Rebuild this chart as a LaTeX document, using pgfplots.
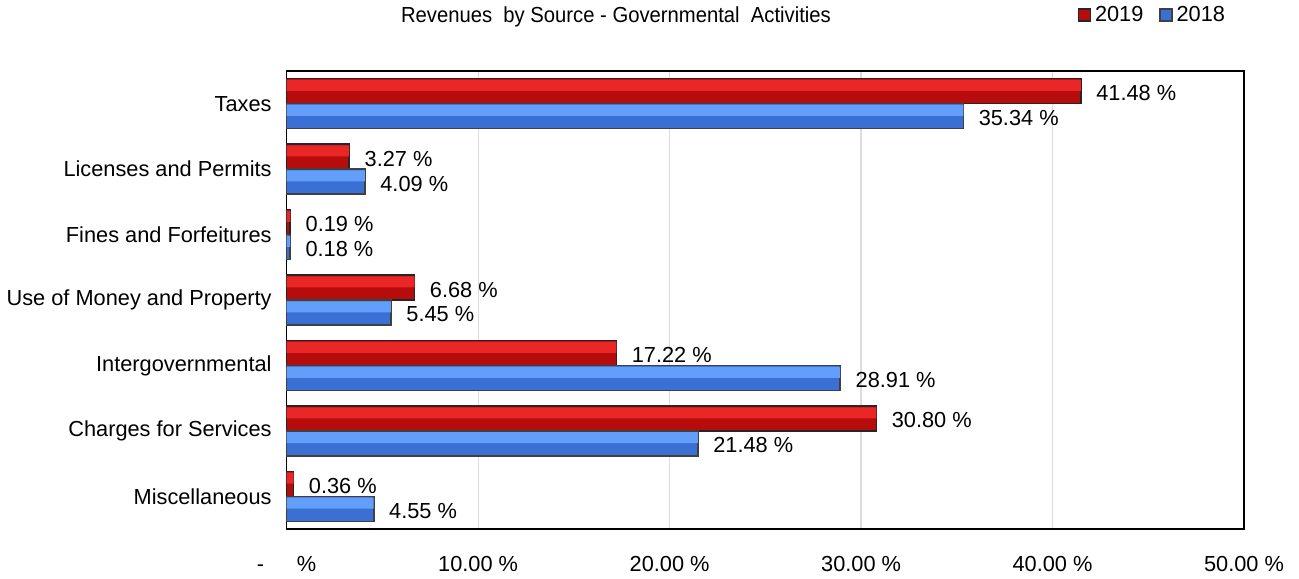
\documentclass[border=0pt]{standalone}
\usepackage{pgfplots}
\usepackage{pgfplotstable}
\pgfplotsset{compat=1.18}
\usepackage{fontspec}
\setmainfont{Liberation Sans}

\definecolor{redtop}{RGB}{235,38,38}
\definecolor{redbot}{RGB}{182,12,12}
\definecolor{bluetop}{RGB}{98,158,250}
\definecolor{bluebot}{RGB}{58,112,212}
\definecolor{gridgray}{RGB}{220,220,220}

\pgfplotstableread{
cat y2019 y2018
0 41.48 35.34
1 3.27 4.09
2 0.19 0.18
3 6.68 5.45
4 17.22 28.91
5 30.80 21.48
6 0.36 4.55
}\revdata

\begin{document}
\begin{tikzpicture}
\begin{axis}[
    scale only axis,
    width=479.5pt, height=229.5pt,
    xbar, bar width=12.5pt,
    xmin=0, xmax=50,
    ymin=-0.5, ymax=6.5,
    y dir=reverse,
    clip=false,
    axis line style={black, line width=0.8pt},
    major tick length=0pt,
    xtick={0,10,20,30,40,50},
    xticklabels={{-\hspace{1.5em}\%}, 10.00 \%, 20.00 \%, 30.00 \%, 40.00 \%, 50.00 \%},
    ytick={0,...,6},
    yticklabels={Taxes, Licenses and Permits, Fines and Forfeitures, Use of Money and Property, Intergovernmental, Charges for Services, Miscellaneous},
    xmajorgrids, major grid style={gridgray, line width=0.6pt},
    /pgf/number format/assume math mode=true,
    tick label style={font=\fontsize{10.9}{13}\selectfont},
    xticklabel style={yshift=-10pt},
    yticklabel style={xshift=-4pt},
    point meta=x,
    vlabel/.style={
        nodes near coords={\pgfmathprintnumber[fixed,fixed zerofill,precision=2]{\pgfplotspointmeta} \%},
        nodes near coords style={font=\fontsize{10.9}{13}\selectfont, anchor=west, xshift=4pt, yshift=-1pt}},
    legend columns=2,
    legend style={draw=none, at={(0.826,1.122)}, anchor=west, font=\fontsize{10.9}{13}\selectfont,
        /tikz/every even column/.append style={column sep=6pt}, inner sep=0pt},
    legend image code/.code={\draw[#1, line width=0.6pt] (0pt,-3pt) rectangle (6pt,3pt);},
]
% 2019 (upper bar of each pair)
\addplot[draw=black!85, line width=0.8pt, fill=redbot, bar shift=6.25pt, vlabel]
    table[x=y2019, y=cat] {\revdata};
\addlegendentry{2019}
% 2018 (lower bar of each pair)
\addplot[draw=black!75, line width=0.8pt, fill=bluebot, bar shift=-6.25pt, vlabel]
    table[x=y2018, y=cat] {\revdata};
\addlegendentry{2018}
% lighter upper halves of the bars
\addplot[draw=none, fill=redtop, bar width=5.5pt, bar shift=9.1pt, forget plot]
    table[x=y2019, y=cat] {\revdata};
\addplot[draw=none, fill=bluetop, bar width=5.5pt, bar shift=-3.4pt, forget plot]
    table[x=y2018, y=cat] {\revdata};
\node[font=\fontsize{10.9}{13}\selectfont] at (rel axis cs:0.344,1.118) {\scalebox{0.93}[1]{Revenues\ \ by Source - Governmental\ \ Activities}};
\path (rel axis cs:-0.2972,-0.098) rectangle (rel axis cs:1.0574,1.1547);
\end{axis}
\end{tikzpicture}
\end{document}
